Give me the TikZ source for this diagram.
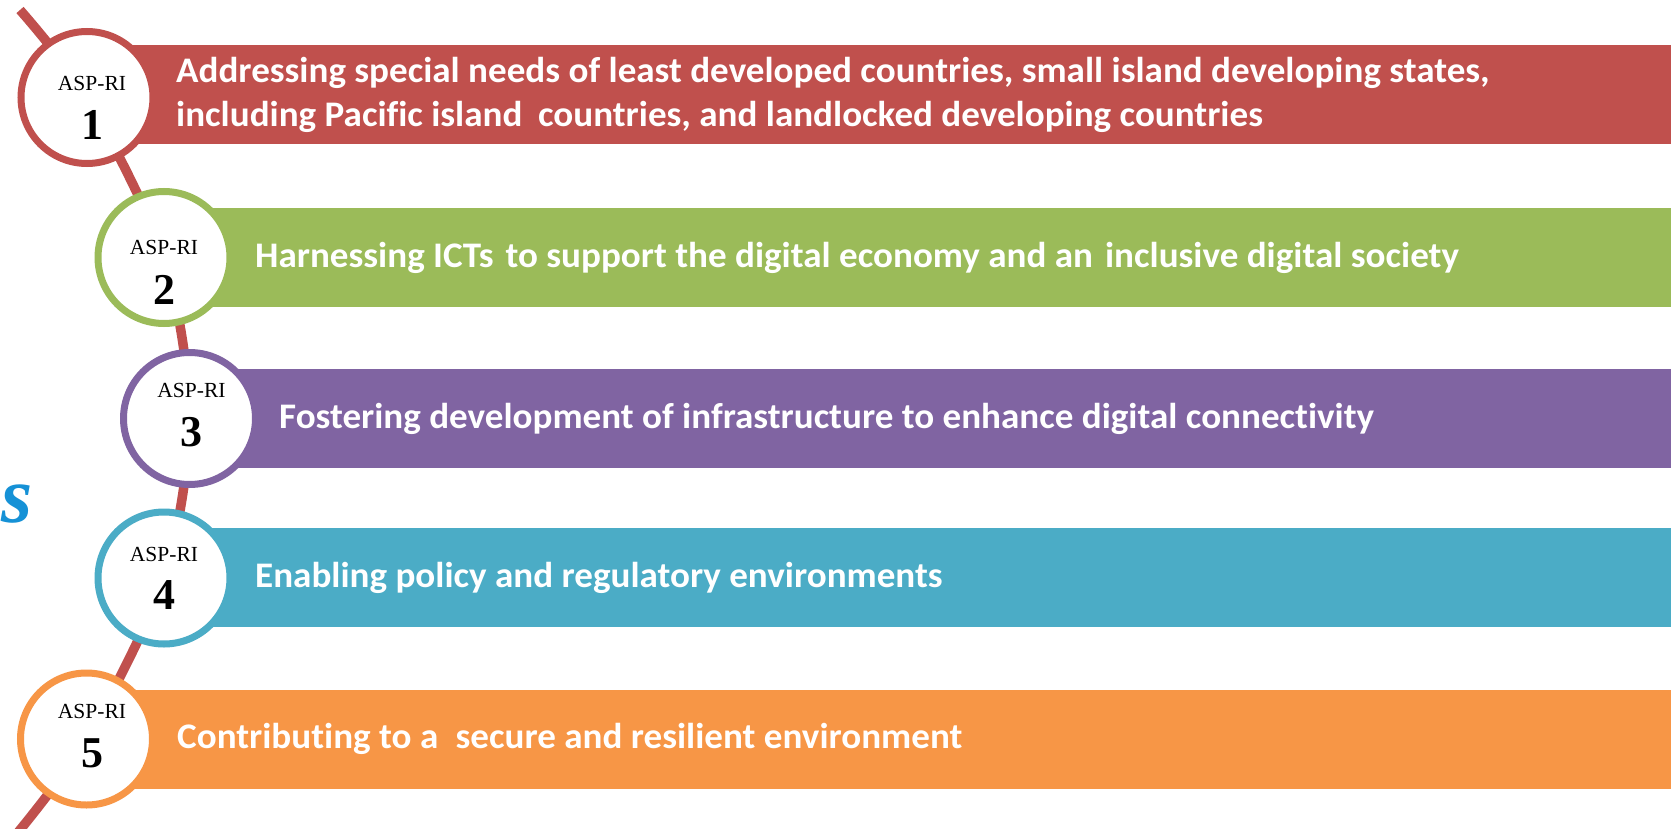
\documentclass[tikz,border=0pt]{standalone}
\usepackage{fontspec}
\setmainfont{Liberation Serif}
\newfontfamily\barfont[FakeStretch=1.03,Ligatures={NoCommon}]{Carlito}
\definecolor{cred}{HTML}{C0504D}
\definecolor{cgreen}{HTML}{9BBB59}
\definecolor{cpurple}{HTML}{8064A2}
\definecolor{cteal}{HTML}{4BACC6}
\definecolor{corange}{HTML}{F79646}
\definecolor{cblue}{HTML}{1591D6}
\begin{document}
\begin{tikzpicture}[x=1pt,y=-1pt,
  bar/.style={draw=none, fill=#1, rectangle, anchor=west, minimum height=99pt, inner sep=0pt},
  ring/.style={circle, draw=#1, line width=7pt, fill=white, minimum size=132pt, inner sep=0pt},
  bartext/.style={anchor=base west, text=white, font=\barfont\bfseries\fontsize{36}{44}\selectfont, inner sep=0pt},
  asp/.style={anchor=base, font=\fontsize{21.5}{21.5}\selectfont, inner sep=0pt},
  num/.style={anchor=base, font=\bfseries\fontsize{44}{44}\selectfont, inner sep=0pt},
  link/.style={draw=cred, line width=9.5pt}
]
\useasboundingbox (0,0) rectangle (1680,829);
\clip (0,0) rectangle (1680,829);
\fill[white] (0,0) rectangle (1680,829);

\coordinate (p0) at (20,10);
\coordinate (p1) at (87,97.5);
\coordinate (p2) at (164,257.5);
\coordinate (p3) at (189.5,418.5);
\coordinate (p4) at (164,578);
\coordinate (p5) at (86.5,739);
\coordinate (p6) at (15,836);

\draw[link] plot[smooth] coordinates {(p0) (p1) (p2) (p3) (p4) (p5) (p6)};

\node[bar=cred,    minimum width=1584pt]   (b1) at (87,95) {};
\node[bar=cgreen,  minimum width=1507pt]   (b2) at (164,257.5) {};
\node[bar=cpurple, minimum width=1481.5pt] (b3) at (189.5,418.5) {};
\node[bar=cteal,   minimum width=1507pt]   (b4) at (164,577.5) {};
\node[bar=corange, minimum width=1584.5pt] (b5) at (86.5,739) {};

\node[ring=cred]    (c1) at (p1) {};
\node[ring=cgreen]  (c2) at (p2) {};
\node[ring=cpurple] (c3) at (p3) {};
\node[ring=cteal]   (c4) at (p4) {};
\node[ring=corange] (c5) at (p5) {};

\node[asp] (a1) at (92,91) {ASP-RI};
\node[num] (n1) at (92.5,140) {1};
\node[asp] (a2) at (164,254) {ASP-RI};
\node[num] (n2) at (164,304) {2};
\node[asp] (a3) at (191.5,397) {ASP-RI};
\node[num] (n3) at (191.5,446.5) {3};
\node[asp] (a4) at (164,561) {ASP-RI};
\node[num] (n4) at (164,609) {4};
\node[asp] (a5) at (92,718) {ASP-RI};
\node[num] (n5) at (92,767) {5};

\node[bartext] (t1a) at (176,83) {Addressing special needs of least developed countries, small island developing states,};
\node[bartext] (t1b) at (176,127) {including Pacific island\hspace{0.2em} countries, and landlocked developing countries};
\node[bartext] (t2) at (255,267) {Harnessing ICTs\hspace{0.1em} to support the digital economy and an\hspace{0.1em} inclusive digital society};
\node[bartext] (t3) at (279,428) {Fostering development of infrastructure to enhance digital connectivity};
\node[bartext] (t4) at (255,587) {Enabling policy and regulatory environments};
\node[bartext] (t5) at (177,748) {Contributing to a\hspace{0.25em} secure and resilient environment};

\node[anchor=base west, text=cblue, font=\bfseries\itshape\fontsize{80}{80}\selectfont, inner sep=0pt] (s) at (1,522) {s};
\end{tikzpicture}
\end{document}
